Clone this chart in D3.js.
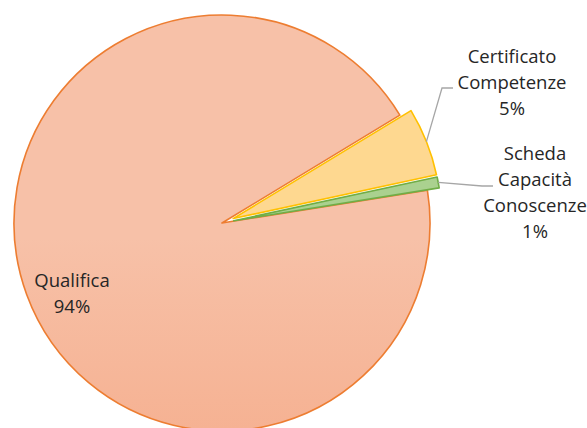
<!DOCTYPE html>
<html lang="en">
<head>
<meta charset="UTF-8">
<title>Pie</title>
<script src="https://d3js.org/d3.v7.min.js"></script>
<style>
  body { margin: 0; background: #fff; }
  text { font-family: "Open Sans", sans-serif; fill: #262626; }
</style>
</head>
<body>
<svg id="chart" width="587" height="428"></svg>
<script>
// data
var categories = ["Qualifica", "Certificato Competenze", "Scheda Capacità Conoscenze"];
var values = [93.85, 5.3, 0.85];
var labelLines = [["Qualifica"], ["Certificato", "Competenze"], ["Scheda", "Capacità", "Conoscenze"]];

var fills = ["url(#qualGrad)", "#fed890", "#aad18f"];
var strokes = ["#ed7d31", "#ffc000", "#70ad47"];
var explode = [0, 12, 12];

var svg = d3.select("#chart");
var cx = 222, cy = 223, r = 208;

var defs = svg.append("defs");
var grad = defs.append("linearGradient")
    .attr("id", "qualGrad")
    .attr("gradientUnits", "userSpaceOnUse")
    .attr("x1", 0).attr("y1", cy - r).attr("x2", 0).attr("y2", cy + r);
grad.append("stop").attr("offset", "0%").attr("stop-color", "#f7c1a8");
grad.append("stop").attr("offset", "100%").attr("stop-color", "#f4a07a");

var rot = 80.9 * Math.PI / 180;
var pie = d3.pie().sort(null).startAngle(rot).endAngle(rot + 2 * Math.PI);
var arcs = pie(values);
var arc = d3.arc().innerRadius(0).outerRadius(r);

var total = d3.sum(values);

function offset(d, i) {
  var a = (d.startAngle + d.endAngle) / 2;
  return [Math.sin(a) * explode[i], -Math.cos(a) * explode[i]];
}

var g = svg.append("g").attr("transform", "translate(" + cx + "," + cy + ")");

g.selectAll("path.slice")
  .data(arcs)
  .enter()
  .append("path")
    .attr("class", "slice")
    .attr("d", arc)
    .attr("transform", function (d, i) {
      var o = offset(d, i);
      return "translate(" + o[0] + "," + o[1] + ")";
    })
    .attr("fill", function (d, i) { return fills[i]; })
    .attr("stroke", function (d, i) { return strokes[i]; })
    .attr("stroke-width", 1.6)
    .attr("stroke-linejoin", "round");

// labels (positions in page coords)
var labelPos = [
  { x: 72, y: 287 },
  { x: 512, y: 63, elbow: [453, 88, 442, 88] },
  { x: 535, y: 160, elbow: [493, 186, 482, 186] }
];
var lineH = 26;

arcs.forEach(function (d, i) {
  var p = labelPos[i];
  var lines = labelLines[i].concat([Math.round(values[i] / total * 100) + "%"]);
  var t = svg.append("text")
    .attr("text-anchor", "middle")
    .attr("font-size", 18.5);
  lines.forEach(function (s, k) {
    t.append("tspan").attr("x", p.x).attr("y", p.y + k * lineH).text(s);
  });

  if (p.elbow) {
    var a = (d.startAngle + d.endAngle) / 2;
    var o = offset(d, i);
    var sx = cx + o[0] + Math.sin(a) * r;
    var sy = cy + o[1] - Math.cos(a) * r;
    svg.append("polyline")
      .attr("points", [[p.elbow[0], p.elbow[1]], [p.elbow[2], p.elbow[3]], [sx, sy]].map(function (q) { return q.join(","); }).join(" "))
      .attr("fill", "none")
      .attr("stroke", "#a6a6a6")
      .attr("stroke-width", 1.3);
  }
});
</script>
</body>
</html>
